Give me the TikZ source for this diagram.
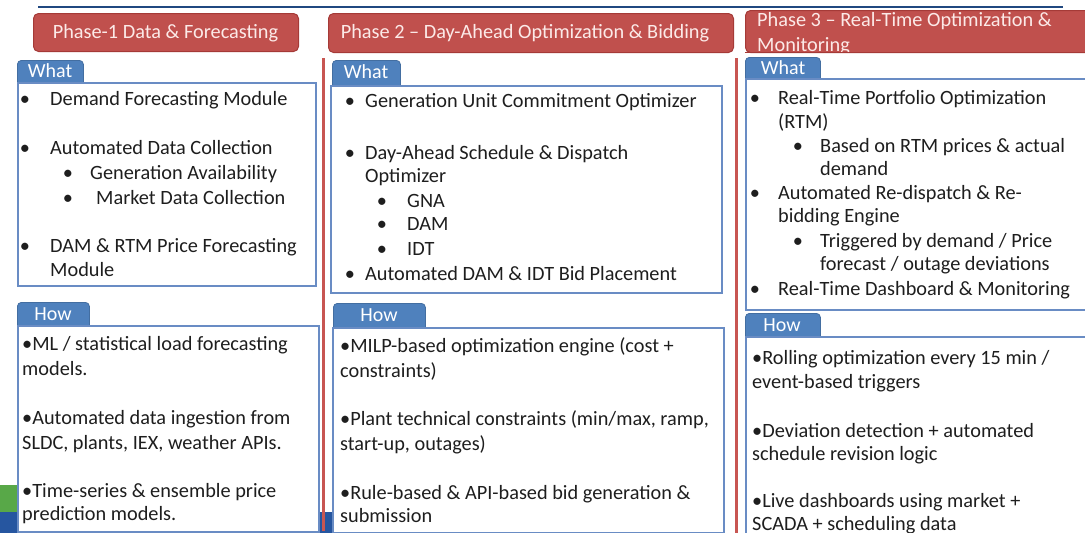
\documentclass[tikz,border=0pt]{standalone}
\usepackage{fontspec}
\setmainfont{Carlito}

\definecolor{hdrred}{RGB}{192,80,77}
\definecolor{hdredge}{RGB}{165,58,55}
\definecolor{hdrtext}{RGB}{252,234,232}
\definecolor{tabblue}{RGB}{79,129,189}
\definecolor{boxline}{RGB}{105,140,196}
\definecolor{txtgray}{RGB}{30,30,30}
\definecolor{topblue}{RGB}{32,72,128}
\definecolor{rulered}{RGB}{200,86,82}
\definecolor{bandblue}{RGB}{38,86,160}
\definecolor{bandgreen}{RGB}{88,168,72}

\tikzset{
  body/.style={font=\fontsize{20.3}{24}\selectfont, text=txtgray, inner sep=0pt, anchor=base west, yshift=-7pt},
  dot/.style={body, anchor=base},
  hdrbox/.style={fill=hdrred, draw=hdredge, line width=1pt, rounded corners=5pt, inner sep=0pt},
  hdrlabel/.style={font=\fontsize{20.3}{24}\selectfont, text=hdrtext, inner sep=0pt},
  tabshape/.style={fill=tabblue, draw=tabblue!85!black, line width=0.8pt, rounded corners=4pt, inner sep=0pt, anchor=north west},
  tablabel/.style={font=\fontsize{20}{24}\selectfont, text=white, inner sep=0pt},
  panel/.style={fill=white, draw=boxline, line width=1.5pt, inner sep=0pt, anchor=north west},
  divider/.style={draw=rulered, line width=3pt},
}

% one line of text: name, x, y (centre of the line), text
\newcommand\txtline[4]{\node[body] (#1) at (#2,#3) {#4};}
% a bullet: name, x, y
\newcommand\bulpt[3]{\node[dot] (#1) at (#2,#3) {•};}
% a box given by its corners: style, name, x1, y1, x2, y2
\newcommand\boxat[6]{\node[#1, minimum width=#5pt-#3pt, minimum height=#6pt-#4pt] (#2) at (#3,#4) {};}

\begin{document}
\begin{tikzpicture}[x=1pt, y=-1pt]
\useasboundingbox (0,0) rectangle (1085,533);
\clip (0,0) rectangle (1085,533);

% coloured bands at the lower left
\fill[bandgreen] (0,485) rectangle (20,514);
\fill[bandblue] (0,512) rectangle (335,533);

% top rule
\draw[topblue, line width=2.5pt] (38,7) -- (1063,7);

% phase headers
\node[hdrbox, minimum width=265pt, minimum height=38pt, anchor=north west] (h1) at (33,13) {};
\node[hdrlabel] (h1t) at (165.5,33) {Phase-1 Data \& Forecasting};
\node[hdrbox, minimum width=405pt, minimum height=39pt, anchor=north west] (h2) at (328,13) {};
\node[hdrlabel] (h2t) at (525,33) {Phase 2 – Day-Ahead Optimization \& Bidding};
\node[hdrbox, minimum width=360pt, minimum height=42pt, anchor=north west] (h3) at (745,10) {};
\begin{scope}
  \clip (745,10) rectangle (1090,51.5);
  \node[hdrlabel, anchor=base west] (h3a) at (757,26) {Phase 3 – Real-Time Optimization \&};
  \node[hdrlabel, anchor=base west] (h3b) at (757,51) {Monitoring};
\end{scope}
\draw[hdredge, line width=1pt] (745,52) -- (1090,52);

% column dividers
\draw[divider] (323,58) -- (323,531);
\draw[divider] (736,58) -- (736,533);

% ---------- Phase 1 ----------
\boxat{tabshape}{t1w}{17}{60}{83}{88}
\node[tablabel] (t1wl) at (50,71) {What};
\boxat{panel}{p1w}{17}{82}{315}{285}
\bulpt{b11}{25}{98}   \txtline{l11}{50}{98}{Demand Forecasting Module}
\bulpt{b12}{25}{147}  \txtline{l12}{50}{147}{Automated Data Collection}
\bulpt{b13}{68}{172}  \txtline{l13}{90}{172}{Generation Availability}
\bulpt{b14}{68}{197}  \txtline{l14}{96}{197}{Market Data Collection}
\bulpt{b15}{25}{245}  \txtline{l15}{50}{245}{DAM \& RTM Price Forecasting}
\txtline{l16}{50}{269}{Module}

\boxat{tabshape}{t1h}{17}{302}{89}{331}
\node[tablabel] (t1hl) at (53,314) {How};
\boxat{panel}{p1h}{17}{325}{318}{531}
\txtline{m11}{22}{343}{•ML / statistical load forecasting}
\txtline{m12}{22}{368}{models.}
\txtline{m13}{22}{417}{•Automated data ingestion from}
\txtline{m14}{22}{442}{SLDC, plants, IEX, weather APIs.}
\txtline{m15}{22}{490}{•Time-series \& ensemble price}
\txtline{m16}{22}{513}{prediction models.}

% ---------- Phase 2 ----------
\boxat{tabshape}{t2w}{332}{60}{400}{90}
\node[tablabel] (t2wl) at (366,72) {What};
\boxat{panel}{p2w}{330}{85}{721}{292}
\bulpt{b21}{350}{100}  \txtline{l21}{365}{100}{Generation Unit Commitment Optimizer}
\bulpt{b22}{350}{152}  \txtline{l22}{365}{152}{Day-Ahead Schedule \& Dispatch}
\txtline{l23}{365}{175}{Optimizer}
\bulpt{b24}{382}{200}  \txtline{l24}{407}{200}{GNA}
\bulpt{b25}{382}{223}  \txtline{l25}{407}{223}{DAM}
\bulpt{b26}{382}{248}  \txtline{l26}{407}{248}{IDT}
\bulpt{b27}{350}{273}  \txtline{l27}{365}{273}{Automated DAM \& IDT Bid Placement}

\boxat{tabshape}{t2h}{333}{303}{425}{333}
\node[tablabel] (t2hl) at (379,315) {How};
\boxat{panel}{p2h}{332}{327}{723}{532}
\txtline{m21}{340}{345}{•MILP-based optimization engine (cost +}
\txtline{m22}{340}{370}{constraints)}
\txtline{m23}{340}{418}{•Plant technical constraints (min/max, ramp,}
\txtline{m24}{340}{443}{start-up, outages)}
\txtline{m25}{340}{492}{•Rule-based \& API-based bid generation \&}
\txtline{m26}{340}{515}{submission}

% ---------- Phase 3 ----------
\boxat{tabshape}{t3w}{745}{57}{820}{84}
\node[tablabel] (t3wl) at (783,68) {What};
\boxat{panel}{p3w}{745}{78}{1095}{309}
\bulpt{b31}{755}{97}   \txtline{l31}{778}{97}{Real-Time Portfolio Optimization}
\txtline{l32}{778}{121}{(RTM)}
\bulpt{b33}{798}{145}  \txtline{l33}{820}{145}{Based on RTM prices \& actual}
\txtline{l34}{820}{168}{demand}
\bulpt{b35}{755}{192}  \txtline{l35}{778}{192}{Automated Re-dispatch \& Re-}
\txtline{l36}{778}{215}{bidding Engine}
\bulpt{b37}{798}{240}  \txtline{l37}{820}{240}{Triggered by demand / Price}
\txtline{l38}{820}{263}{forecast / outage deviations}
\bulpt{b39}{755}{288}  \txtline{l39}{778}{288}{Real-Time Dashboard \& Monitoring}

\boxat{tabshape}{t3h}{745}{313}{820}{342}
\node[tablabel] (t3hl) at (782,325) {How};
\boxat{panel}{p3h}{745}{336}{1095}{545}
\txtline{m31}{752}{357}{•Rolling optimization every 15 min /}
\txtline{m32}{752}{381}{event-based triggers}
\txtline{m33}{752}{430}{•Deviation detection + automated}
\txtline{m34}{752}{453}{schedule revision logic}
\txtline{m35}{752}{500}{•Live dashboards using market +}
\txtline{m36}{752}{523}{SCADA + scheduling data}
\end{tikzpicture}
\end{document}
